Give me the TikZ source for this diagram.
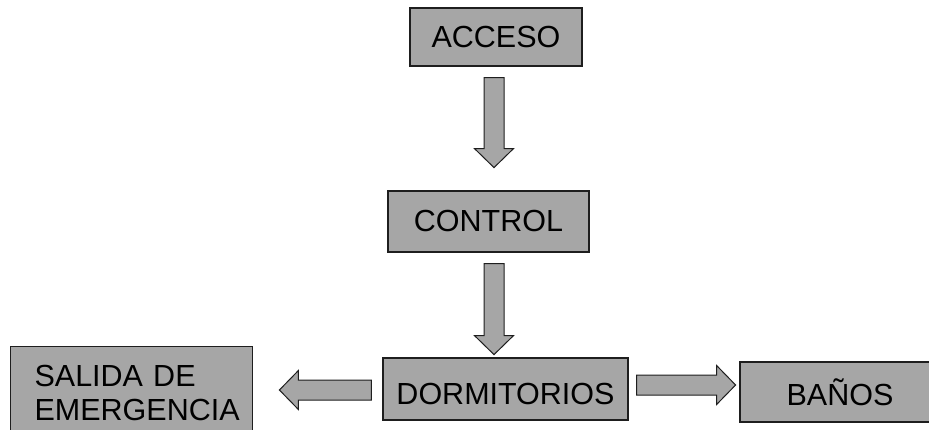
\documentclass[tikz,border=0pt]{standalone}
\usepackage{fontspec}
\setmainfont{Liberation Sans}
\usetikzlibrary{calc}

\definecolor{boxgray}{RGB}{166,166,166}
\definecolor{edgegray}{RGB}{30,30,30}

% Hollow block arrow: tail point, direction (degrees), overall length
\newcommand{\blockarrow}[3]{%
  \begin{scope}[shift={(#1)}, rotate=#2]
    \filldraw[arrowbody] (0,-10) -- ({#3-19},-10) -- ({#3-19},-19.5) -- (#3,0)
      -- ({#3-19},19.5) -- ({#3-19},10) -- (0,10) -- cycle;
  \end{scope}}

\begin{document}
\begin{tikzpicture}[x=1pt, y=1pt,
    roombox/.style={draw=edgegray, fill=boxgray, line width=1.2pt,
      inner sep=0pt, font=\fontsize{30.5}{34}\selectfont},
    arrowbody/.style={draw=edgegray, fill=boxgray, line width=1pt, line join=miter}]
  \clip (0,0) rectangle (929,429);

  % rooms
  \node[roombox, minimum width=172, minimum height=58] (acc) at (496,392) {ACCESO};
  \node[roombox, minimum width=201, minimum height=61] (ctl) at (488.5,207.5) {CONTROL};
  \node[roombox, minimum width=245, minimum height=62, text height=30pt, text depth=0pt]
    (dorm) at (505.5,40) {DORMITORIOS};
  \node[roombox, minimum width=200, minimum height=60] (ban) at (840,37) {BAÑOS};
  \node[roombox, anchor=north west, minimum width=242,
    inner xsep=24pt, inner ysep=19pt, text width=194pt, align=left]
    (sal) at (10,83) {SALIDA DE\\EMERGENCIA};

  % arrow tails, placed next to the rooms they leave
  \coordinate (t1) at ($(acc.south)+(-2,-11)$);
  \coordinate (t2) at ($(ctl.south)+(5.5,-11)$);
  \coordinate (t3) at ($(dorm.west)+(-11,-1)$);
  \coordinate (t4) at ($(dorm.east)+(8,4)$);

  % flow arrows
  \blockarrow{t1}{-90}{90}
  \blockarrow{t2}{-90}{91}
  \blockarrow{t3}{180}{92}
  \blockarrow{t4}{0}{99}
\end{tikzpicture}
\end{document}
